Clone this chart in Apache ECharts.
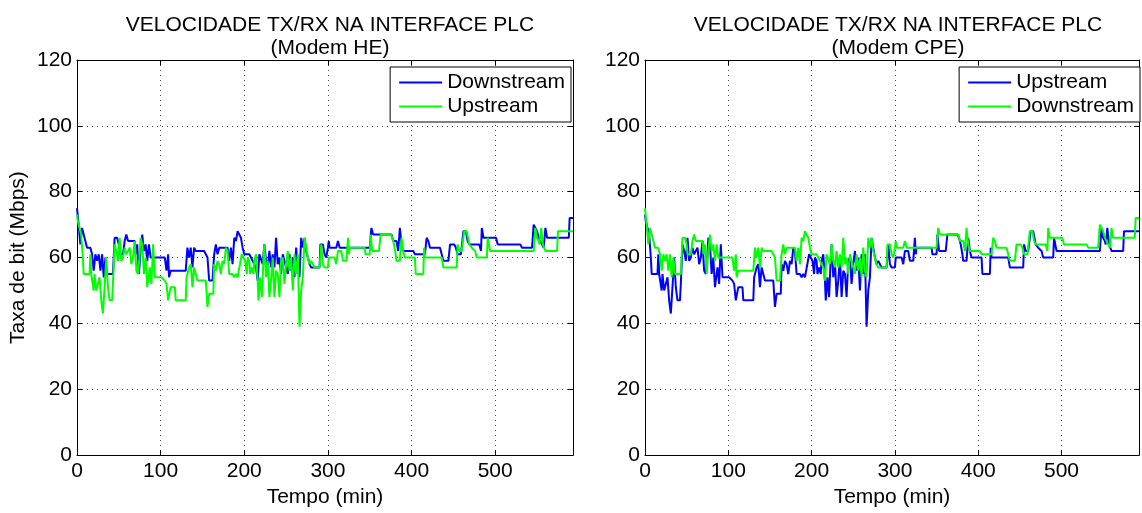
<!DOCTYPE html>
<html>
<head>
<meta charset="utf-8">
<script src="https://cdn.jsdelivr.net/npm/echarts@6/dist/echarts.min.js"></script>
<style>
  html, body { margin: 0; padding: 0; background: #fff; }
  #chart { width: 1142px; height: 513px; }
</style>
</head>
<body>
<div id="chart"></div>
<script>
// PLC link throughput over time (minutes), in Mbps
const downTime = [0,2,4,6,8,10,12,16,18,20,22,24,26,28,30,32,34,36,43,45,48,50,51,55,57,59,61,69,70,72,74,76,78,80,82,84,86,88,105,107,109,110,112,130,132,134,136,138,140,142,152,154,156,158,162,164,166,168,170,180,182,184,186,188,190,192,194,196,198,200,206,208,210,212,214,216,218,220,222,224,226,228,230,232,234,236,238,240,242,244,246,248,250,252,254,256,258,260,262,264,266,268,270,272,274,276,278,280,290,291,294,296,298,300,301,302,310,312,314,350,352,354,376,378,382,384,386,388,390,402,404,416,418,420,422,434,436,438,444,446,451,453,455,459,462,465,467,469,481,483,484,486,501,503,530,532,544,546,548,550,552,554,556,558,560,562,588,589,593];
const downRate = [75,70,64,69,67,65,63,63,61,56,61,59,61,56,61,54,60,55,55,66,66,64,61,61,65,67,65,65,61,64,55,62,67,62,64,59,64,60,60,56,61,54,56,56,63,60,63,57,63,62,62,61,60,53,53,61,64,61,63,63,59,63,58,66,65,68,68,66,63,61,61,60,60,58,57,53,61,61,58,64,59,57,62,57,61,57,66,58,60,55,61,59,57,55,61,56,60,54,63,56,54,66,63,66,62,60,58,57,57,64,64,61,60,63,65,63,63,65,63,63,69,67,67,65,65,62,69,64,62,62,61,61,66,65,63,63,61,59,59,64,64,63,61,61,68,68,65,64,64,62,69,66,66,64,64,63,63,70,70,68,66,65,64,63,69,66,66,72,72];

const upTime = [0,1,3,5,7,8,15,16,17,19,20,21,23,25,27,29,31,33,35,37,39,42,43,45,47,49,51,53,55,57,59,61,63,65,67,69,71,73,75,76,78,80,82,84,87,89,91,93,101,105,107,109,111,112,117,118,130,131,134,136,138,140,142,144,154,156,158,163,164,166,168,170,172,174,176,178,180,182,186,188,190,192,197,199,201,203,204,206,207,209,211,212,214,216,217,219,221,223,224,226,228,230,232,234,236,238,240,242,244,246,248,250,252,254,256,258,260,262,264,266,268,270,272,274,276,278,280,284,290,292,294,296,300,301,308,310,312,316,318,322,324,325,326,344,345,350,351,353,361,363,375,377,379,381,382,386,388,390,392,404,405,414,415,416,436,438,454,455,457,460,463,466,469,472,476,478,490,491,494,546,548,550,552,553,555,557,560,574,575,593];
const upRate = [73,71,69,67,60,55,55,61,55,55,50,55,50,52,54,47,43,51,60,51,47,47,52,64,62,59,66,59,60,63,61,61,63,58,60,65,56,55,61,66,64,55,60,51,57,52,64,54,54,53,52,47,47,51,51,47,47,54,57,58,51,57,55,53,53,45,49,49,58,56,59,58,55,59,58,63,62,55,55,54,55,54,61,60,59,55,60,59,55,57,55,59,61,53,47,54,48,60,64,54,59,48,53,60,48,56,55,48,59,60,52,58,62,56,60,50,61,55,61,39,50,54,66,66,60,58,59,57,57,64,58,57,57,60,60,58,62,62,59,59,66,61,63,63,61,61,67,62,62,67,67,66,64,61,59,59,66,62,60,60,55,55,63,60,60,57,57,64,62,62,68,68,64,63,62,60,60,66,62,62,69,66,65,64,69,64,62,62,68,68];

const BLUE = '#0000ff';
const GREEN = '#00ff00';
const FONT = '"Liberation Sans", Arial, Helvetica, sans-serif';
const FS = 21;

function pairs(t, v) { return t.map((x, i) => [x, v[i]]); }

const panels = [
  { left: 77, width: 496, sub: '(Modem HE)', yName: 'Taxa de bit (Mbps)', legendRight: 571,
    lines: [['Downstream', BLUE, downTime, downRate], ['Upstream', GREEN, upTime, upRate]] },
  { left: 645, width: 498, sub: '(Modem CPE)', yName: '', legendRight: 2,
    lines: [['Upstream', BLUE, upTime, upRate], ['Downstream', GREEN, downTime, downRate]] }
];

const grid = [], xAxis = [], yAxis = [], series = [], title = [], legend = [];
const dotted = { show: true, lineStyle: { color: '#444', width: 1, type: [1, 4] } };
const tickIn = { show: true, inside: true, length: 5, lineStyle: { color: '#000' } };
const axisLine = { show: true, onZero: false, lineStyle: { color: '#000', width: 1 } };

panels.forEach((p, i) => {
  grid.push({ left: p.left, top: 60, width: p.width, height: 399, containLabel: false });
  title.push({
    text: 'VELOCIDADE TX/RX NA INTERFACE PLC\n' + p.sub,
    left: p.left + 248, top: 9, textAlign: 'center',
    textStyle: { fontFamily: FONT, fontSize: FS, fontWeight: 'normal', color: '#000', lineHeight: 23 }
  });
  xAxis.push({
    type: 'value', gridIndex: i, position: 'bottom', min: 0, max: 593, interval: 100,
    axisLine, axisTick: tickIn, splitLine: dotted,
    axisLabel: { fontFamily: FONT, fontSize: FS, color: '#000', margin: 6,
      formatter: v => (v % 100 === 0 ? String(v) : '') },
    name: 'Tempo (min)', nameLocation: 'middle', nameGap: 27,
    nameTextStyle: { fontFamily: FONT, fontSize: FS, color: '#000' }
  });
  xAxis.push({
    type: 'value', gridIndex: i, position: 'top', min: 0, max: 593, interval: 100,
    axisLine, axisTick: tickIn, splitLine: { show: false }, axisLabel: { show: false }
  });
  yAxis.push({
    type: 'value', gridIndex: i, position: 'left', min: 0, max: 120, interval: 20,
    axisLine, axisTick: tickIn, splitLine: dotted,
    axisLabel: { fontFamily: FONT, fontSize: FS, color: '#000', margin: 5 },
    name: p.yName, nameLocation: 'middle', nameGap: 48,
    nameTextStyle: { fontFamily: FONT, fontSize: FS, color: '#000' }
  });
  yAxis.push({
    type: 'value', gridIndex: i, position: 'right', min: 0, max: 120, interval: 20,
    axisLine, axisTick: tickIn, splitLine: { show: false }, axisLabel: { show: false }
  });
  p.lines.forEach(([name, color, t, v]) => {
    series.push({
      name, type: 'line', xAxisIndex: 2 * i, yAxisIndex: 2 * i,
      data: pairs(t, v), symbol: 'none', showSymbol: false, clip: true,
      lineStyle: { color, width: 2 }, itemStyle: { color }
    });
  });
  legend.push({
    orient: 'vertical', right: p.legendRight, top: 67,
    icon: 'rect', itemWidth: 43, itemHeight: 2, itemGap: 3,
    padding: [5, 6, 5, 9], borderColor: '#000', borderWidth: 1, borderRadius: 0,
    backgroundColor: '#fff', selectedMode: false,
    textStyle: { fontFamily: FONT, fontSize: FS, color: '#000', lineHeight: 21 },
    data: p.lines.map(([name, color]) => ({ name, itemStyle: { color }, lineStyle: { color } }))
  });
});

const chart = echarts.init(document.getElementById('chart'), null, { renderer: 'canvas' });
chart.setOption({ animation: false, backgroundColor: '#fff', title, legend, grid, xAxis, yAxis, series });
</script>
</body>
</html>
